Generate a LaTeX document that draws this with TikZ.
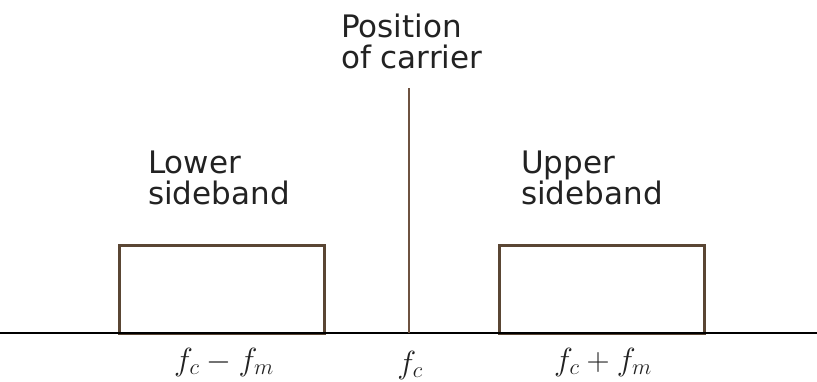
\RequirePackage{fix-cm}
\documentclass[tikz,border=0pt]{standalone}
\usepackage{fontspec}
\usetikzlibrary{positioning}
\newfontfamily\lblfont{DejaVu Sans}
\definecolor{bandline}{HTML}{5A4634}
\definecolor{carrline}{HTML}{6E5240}
\definecolor{txtgray}{HTML}{222222}
\tikzset{
  band/.style={draw=bandline, line width=2.8pt, minimum width=205pt, minimum height=88pt, inner sep=0pt},
  caption/.style={font=\lblfont\fontsize{31}{31}\selectfont, text=txtgray, align=left, inner sep=0pt, anchor=north west},
  freq/.style={font=\fontsize{32}{34}\selectfont, text=txtgray, anchor=base, inner sep=0pt},
}
\begin{document}
\begin{tikzpicture}[x=1pt,y=-1pt]
  \useasboundingbox (0,0) rectangle (817,381);
  % axis
  \coordinate (axl) at (0,333);
  \coordinate (axr) at (817,333);
  % sidebands
  \node[band] (lsb) at (222,289.5) {};
  \node[band] (usb) at (602,289.5) {};
  \draw[line width=1.8pt] (axl) -- (axr);
  % carrier
  \coordinate (ctop) at (409,88);
  \draw[carrline, line width=2.8pt] (ctop) -- (ctop |- axl);
  % captions
  \node[caption] (pos) at (341,14) {Position\\of carrier};
  \node[caption] (lower) at (148,151) {Lower\\sideband};
  \node[caption] (upper) at (521,151) {Upper\\sideband};
  % frequencies
  \node[freq] (flo) at (224,370) {$f_c-f_m$};
  \node[freq] (fc) at (410,373) {$f_c$};
  \node[freq] (fhi) at (603,370) {$f_c+f_m$};
\end{tikzpicture}
\end{document}
